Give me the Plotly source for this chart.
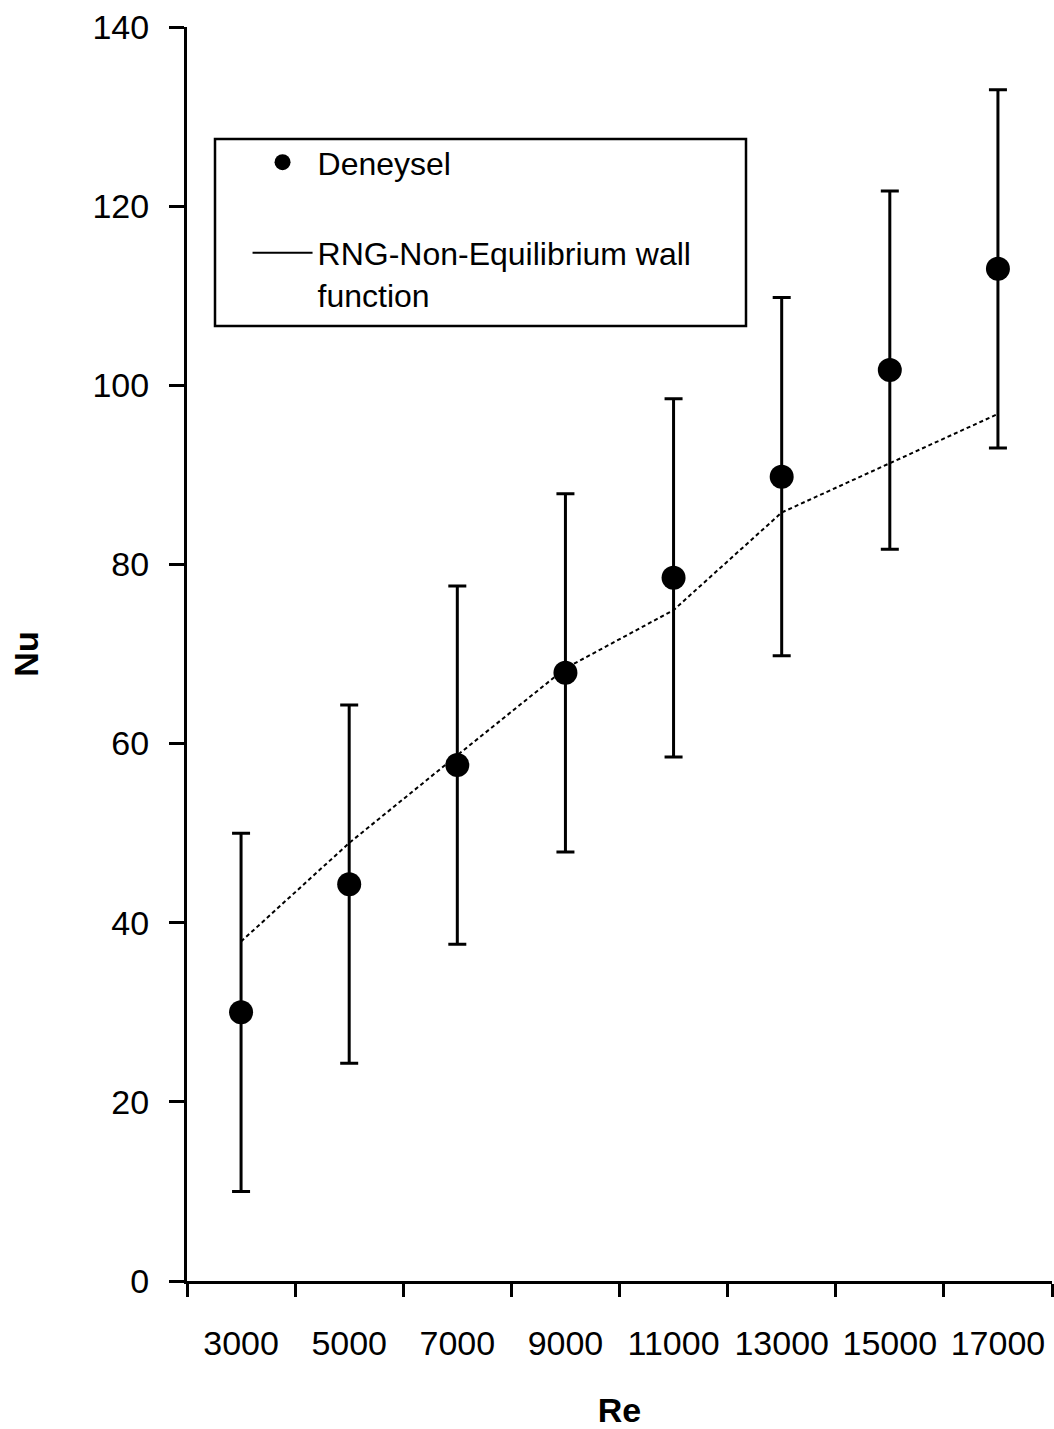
import plotly.graph_objects as go

# Reynolds number categories and Nusselt number results
re_labels = ["3000", "5000", "7000", "9000", "11000", "13000", "15000", "17000"]
nu_experimental = [30.0, 44.3, 57.6, 67.9, 78.5, 89.8, 101.7, 113.0]
nu_error = [20, 20, 20, 20, 20, 20, 20, 20]
nu_rng = [37.9, 48.9, 58.7, 68.4, 74.9, 85.8, 91.3, 96.8]

y_ticks = [0, 20, 40, 60, 80, 100, 120, 140]

FONT = "Liberation Sans, Arial, sans-serif"

fig = go.Figure()

# Experimental data with error bars
fig.add_trace(go.Scatter(
    x=re_labels, y=nu_experimental,
    mode="markers",
    name="Deneysel",
    marker=dict(symbol="circle", size=24, color="black"),
    error_y=dict(type="data", array=nu_error, visible=True,
                 color="black", thickness=3, width=9),
    legendgroup="exp",
))

# CFD prediction (dotted curve, legend entry drawn as solid line)
fig.add_trace(go.Scatter(
    x=re_labels, y=nu_rng,
    mode="lines",
    line=dict(color="black", width=2, dash="4px,3px"),
    showlegend=False,
    hoverinfo="x+y",
))
fig.add_trace(go.Scatter(
    x=[None], y=[None],
    mode="lines",
    name="RNG-Non-Equilibrium wall<br>function",
    line=dict(color="black", width=2),
    legendgroup="rng",
))

fig.update_layout(
    width=1054, height=1429,
    margin=dict(l=187, r=2, t=27, b=148),
    paper_bgcolor="white", plot_bgcolor="white",
    font=dict(family=FONT, size=34, color="black"),
    showlegend=True,
    legend=dict(
        x=0.07, y=0.914, xanchor="left", yanchor="top",
        bgcolor="rgba(0,0,0,0)", borderwidth=0,
        font=dict(family=FONT, size=32, color="black"),
        itemwidth=60, tracegroupgap=46, traceorder="grouped",
        valign="top",
    ),
    shapes=[dict(
        type="rect", xref="paper", yref="paper",
        x0=(215 - 187) / 865, x1=(746 - 187) / 865,
        y0=(1281 - 326) / 1254, y1=(1281 - 139) / 1254,
        line=dict(color="black", width=2.5), fillcolor="rgba(0,0,0,0)",
        layer="below",
    )],
)

fig.update_xaxes(
    type="category", range=[-0.5, 7.5],
    tickson="boundaries", ticks="outside", ticklen=13, tickwidth=2.5,
    tickcolor="black", showline=True, linecolor="black", linewidth=3,
    showgrid=False, zeroline=False, tickangle=0,
    tickfont=dict(family=FONT, size=34), ticklabelstandoff=30,
    title=dict(text="<b>Re</b>", font=dict(family=FONT, size=34), standoff=39),
    automargin=False,
)
fig.update_yaxes(
    range=[0, 140], tickvals=y_ticks, ticks="outside", ticklen=15, tickwidth=2.5,
    tickcolor="black", showline=True, linecolor="black", linewidth=3,
    showgrid=False, zeroline=False,
    tickfont=dict(family=FONT, size=34), ticklabelstandoff=13,
    title=dict(text="<b>Nu</b>", font=dict(family=FONT, size=34), standoff=44),
    automargin=False,
)

fig.write_html("out.html")
